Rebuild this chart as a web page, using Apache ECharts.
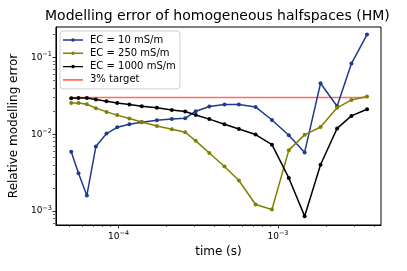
<!DOCTYPE html>
<html><head><meta charset="utf-8">
<script src="https://cdn.jsdelivr.net/npm/echarts@6/dist/echarts.min.js"></script>
<style>html,body{margin:0;padding:0;background:#fff}#c{width:407px;height:271px}</style>
</head><body><div id="c"></div>
<script>
const times = [5.05e-5, 5.61e-5, 6.33e-5, 7.21e-5, 8.41e-5, 9.81e-5, 1.17e-4, 1.40e-4, 1.74e-4, 2.16e-4, 2.62e-4, 3.05e-4, 3.71e-4, 4.62e-4, 5.69e-4, 7.24e-4, 9.17e-4, 1.17e-3, 1.47e-3, 1.85e-3, 2.35e-3, 2.89e-3, 3.62e-3];
const ec10 = [0.0059, 0.0031, 0.0016, 0.0069, 0.0102, 0.0123, 0.0135, 0.0143, 0.0152, 0.0158, 0.0161, 0.0199, 0.0229, 0.0243, 0.0243, 0.0226, 0.0153, 0.0097, 0.0058, 0.0459, 0.0231, 0.0828, 0.197];
const ec250 = [0.0255, 0.0255, 0.0245, 0.0218, 0.0195, 0.0177, 0.0160, 0.0144, 0.0128, 0.0116, 0.0106, 0.0082, 0.0057, 0.0038, 0.0025, 0.00122, 0.00105, 0.0062, 0.0098, 0.0124, 0.0220, 0.0279, 0.0308];
const ec1000 = [0.0294, 0.0296, 0.0296, 0.0282, 0.0268, 0.0255, 0.0243, 0.0231, 0.0220, 0.0207, 0.0197, 0.0178, 0.0157, 0.0135, 0.0117, 0.0099, 0.0073, 0.0027, 0.00086, 0.0040, 0.0119, 0.0173, 0.0211];
const targetValue = 0.03;
const seriesNames = ['EC = 10 mS/m', 'EC = 250 mS/m', 'EC = 1000 mS/m', '3% target'];
const xMajor = [1e-4, 1e-3];
const xMinor = [5e-5, 6e-5, 7e-5, 8e-5, 9e-5, 2e-4, 3e-4, 4e-4, 5e-4, 6e-4, 7e-4, 8e-4, 9e-4, 2e-3, 3e-3, 4e-3];
const yMajor = [1e-3, 1e-2, 1e-1];
const yMinor = [7e-4, 8e-4, 9e-4, 2e-3, 3e-3, 4e-3, 5e-3, 6e-3, 7e-3, 8e-3, 9e-3, 2e-2, 3e-2, 4e-2, 5e-2, 6e-2, 7e-2, 8e-2, 9e-2, 2e-1];

const X_MIN = 4.05e-5, X_MAX = 4.43e-3, Y_MIN = 6.6e-4, Y_MAX = 0.2474;
const FONT = 'DejaVu Sans';
const pair = (ys) => times.map((t, i) => [t, ys[i]]);
const expFmt = (v) => '{b|10}{s|\u2212' + Math.abs(Math.round(Math.log10(v))) + '}';
const rich = { b: { fontSize: 9, fontFamily: FONT, color: '#000' }, s: { fontSize: 6.5, fontFamily: FONT, color: '#000', padding: [0, 0, 6, 0] } };
const gridRect = { left: 55, right: 26, top: 27, bottom: 46 };
// legend icons: line with small dot / plain line (corner sub-paths fix the bounding box to 20x8)
const BOX = 'M0,0L0.01,0Z M20,8L19.99,8Z ';
const ICON_DOT = 'path://' + BOX + 'M0,3.3H20V4.7H0Z M10,2.2A1.8,1.8 0 1,1 9.99,2.2Z';
const ICON_LINE = 'path://' + BOX + 'M0,3.2H20V4.8H0Z';

function majorAxis(isX) {
  return {
    type: 'log', logBase: 10, gridIndex: 0,
    min: isX ? X_MIN : Y_MIN, max: isX ? X_MAX : Y_MAX,
    position: isX ? 'bottom' : 'left',
    name: isX ? 'time (s)' : 'Relative modelling error',
    nameLocation: 'middle', nameGap: isX ? 19 : 28,
    nameTextStyle: { fontSize: 12, fontFamily: FONT, color: '#000' },
    axisLine: { show: true, lineStyle: { color: '#000', width: 1 } },
    axisTick: { show: true, inside: false, length: 3.5, customValues: isX ? xMajor : yMajor, lineStyle: { color: '#000', width: 0.8 } },
    axisLabel: { show: true, customValues: isX ? xMajor : yMajor, formatter: expFmt, rich: rich, margin: isX ? 5 : 4 },
    splitLine: { show: false }, minorTick: { show: false }, minorSplitLine: { show: false }
  };
}
function minorAxis(isX) {
  return {
    type: 'log', logBase: 10, gridIndex: 1,
    min: isX ? X_MIN : Y_MIN, max: isX ? X_MAX : Y_MAX,
    position: isX ? 'bottom' : 'left',
    axisLine: { show: false },
    axisTick: { show: true, inside: false, length: 2, customValues: isX ? xMinor : yMinor, lineStyle: { color: '#000', width: 0.6 } },
    axisLabel: { show: false },
    splitLine: { show: false }
  };
}
function lineSeries(name, ys, color, z) {
  return {
    name: name, type: 'line', xAxisIndex: 0, yAxisIndex: 0, data: pair(ys),
    symbol: 'circle', symbolSize: 4, showSymbol: true, z: z,
    lineStyle: { color: color, width: 1.5 }, itemStyle: { color: color },
    animation: false
  };
}

const chart = echarts.init(document.getElementById('c'), null, { renderer: 'canvas' });
chart.setOption({
  animation: false,
  backgroundColor: '#fff',
  title: {
    text: 'Modelling error of homogeneous halfspaces (HM)',
    left: 45, top: 9, padding: 0,
    textStyle: { fontSize: 14, fontWeight: 'normal', fontFamily: FONT, color: '#000' }
  },
  legend: {
    orient: 'vertical', left: 60, top: 31,
    data: [
      { name: seriesNames[0], icon: ICON_DOT },
      { name: seriesNames[1], icon: ICON_DOT },
      { name: seriesNames[2], icon: ICON_DOT },
      { name: seriesNames[3], icon: ICON_LINE }
    ],
    itemWidth: 20, itemHeight: 8, itemGap: 3.3,
    padding: [4, 4, 4, 3],
    borderColor: '#d0d0d0', borderWidth: 1, borderRadius: 3,
    backgroundColor: 'rgba(255,255,255,0.8)',
    textStyle: { fontSize: 10, fontFamily: FONT, color: '#000', padding: [0, 0, 0, 2] }
  },
  grid: [
    Object.assign({ show: true, borderColor: '#000', borderWidth: 1, backgroundColor: 'transparent' }, gridRect),
    Object.assign({ show: false }, gridRect)
  ],
  xAxis: [majorAxis(true), minorAxis(true)],
  yAxis: [majorAxis(false), minorAxis(false)],
  series: [
    {
      name: seriesNames[3], type: 'line', xAxisIndex: 0, yAxisIndex: 0,
      data: [[times[0], targetValue], [times[times.length - 1], targetValue]],
      symbol: 'none', z: 1, lineStyle: { color: '#fb6f5c', width: 1.5 }, itemStyle: { color: '#fb6f5c' }
    },
    lineSeries(seriesNames[0], ec10, '#1f3b8c', 2),
    lineSeries(seriesNames[1], ec250, '#808000', 3),
    lineSeries(seriesNames[2], ec1000, '#000000', 4)
  ]
});
</script>
</body></html>
